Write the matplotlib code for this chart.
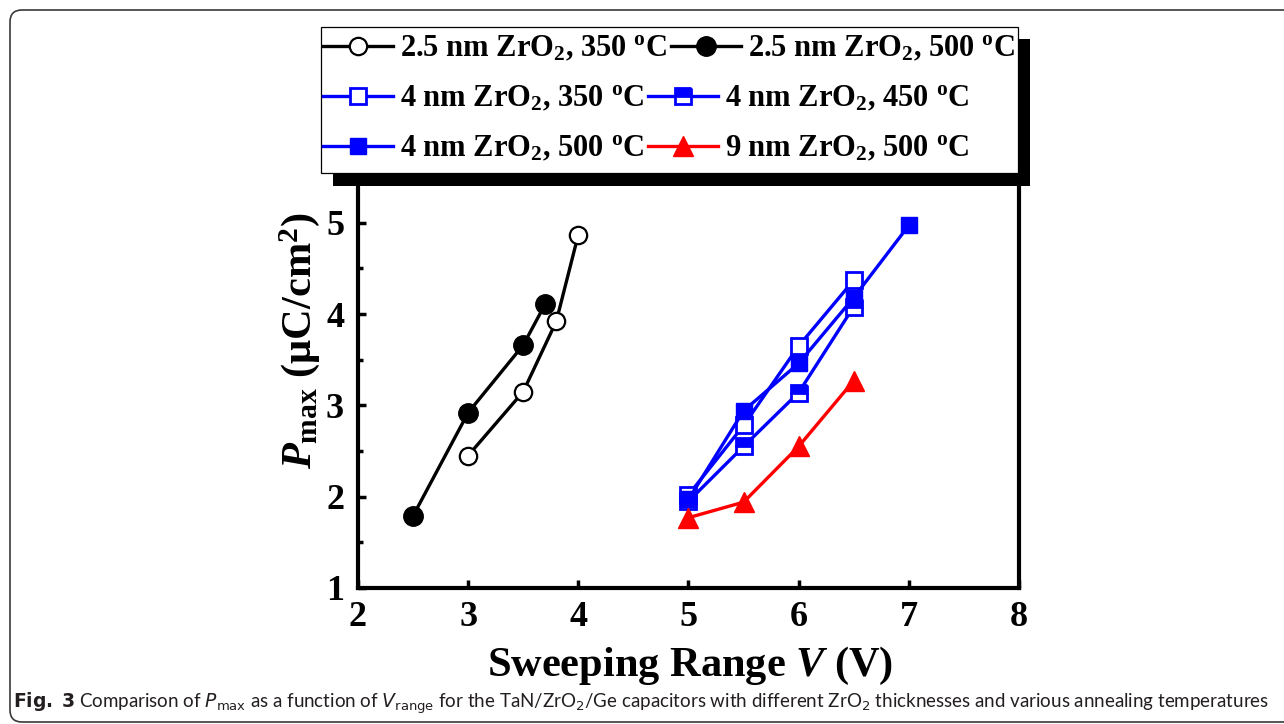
import matplotlib
matplotlib.use('Agg')
import matplotlib.pyplot as plt
from matplotlib.patches import Rectangle, FancyBboxPatch
from matplotlib.ticker import MultipleLocator

plt.rcParams['font.family'] = ['Liberation Serif', 'DejaVu Serif']
plt.rcParams['font.weight'] = 'normal'
plt.rcParams['mathtext.fontset'] = 'custom'
plt.rcParams['mathtext.rm'] = 'Liberation Serif:bold'
plt.rcParams['mathtext.bf'] = 'Liberation Serif:bold'
plt.rcParams['mathtext.it'] = 'Liberation Serif:italic:bold'

# ---------------- data ----------------
v_25_350 = [3.0, 3.5, 3.8, 4.0]
p_25_350 = [2.45, 3.15, 3.92, 4.87]
v_25_500 = [2.5, 3.0, 3.5, 3.7]
p_25_500 = [1.79, 2.92, 3.66, 4.11]
v_4_350 = [5.0, 5.5, 6.0, 6.5]
p_4_350 = [2.02, 2.78, 3.65, 4.37]
v_4_450 = [5.0, 5.5, 6.0, 6.5]
p_4_450 = [1.95, 2.55, 3.14, 4.08]
v_4_500 = [5.0, 5.5, 6.0, 6.5, 7.0]
p_4_500 = [1.97, 2.94, 3.46, 4.18, 4.97]
v_9_500 = [5.0, 5.5, 6.0, 6.5]
p_9_500 = [1.77, 1.94, 2.55, 3.27]

labels = [
    '2.5 nm ZrO$_2$, 350 $^\\mathrm{o}$C',
    '2.5 nm ZrO$_2$, 500 $^\\mathrm{o}$C',
    '4 nm ZrO$_2$, 350 $^\\mathrm{o}$C',
    '4 nm ZrO$_2$, 450 $^\\mathrm{o}$C',
    '4 nm ZrO$_2$, 500 $^\\mathrm{o}$C',
    '9 nm ZrO$_2$, 500 $^\\mathrm{o}$C',
]
x_ticks = [2, 3, 4, 5, 6, 7, 8]
y_ticks = [1, 2, 3, 4, 5]
xlabel = 'Sweeping Range $V$ (V)'
ylabel = '$P_\\mathrm{max}$ (μC/cm$^\\mathrm{2}$)'
caption = ('$\\mathbf{Fig.}$ $\\mathbf{3}$ Comparison of $P_\\mathrm{max}$ as a function of '
           '$V_\\mathrm{range}$ for the TaN/ZrO$_2$/Ge capacitors with different '
           'ZrO$_2$ thicknesses and various annealing temperatures')

W, H = 1284, 724
fig = plt.figure(figsize=(W / 100, H / 100), dpi=100)
ax = fig.add_axes([358 / W, 1 - 588 / H, (1019 - 358) / W, (588 - 177) / H])

lw = 2.4
l1, = ax.plot(v_25_350, p_25_350, '-o', color='black', lw=lw, ms=12.5,
              mfc='white', mec='black', mew=1.6)
l2, = ax.plot(v_25_500, p_25_500, '-o', color='black', lw=lw, ms=14,
              mfc='black', mec='black', mew=1)
l3, = ax.plot(v_4_350, p_4_350, '-s', color='blue', lw=lw, ms=11,
              mfc='white', mec='blue', mew=2)
l4, = ax.plot(v_4_450, p_4_450, '-s', color='blue', lw=lw, ms=11,
              mfc='blue', mfcalt='white', fillstyle='top', mec='blue', mew=2)
l5, = ax.plot(v_4_500, p_4_500, '-s', color='blue', lw=lw, ms=12,
              mfc='blue', mec='blue', mew=1)
l6, = ax.plot(v_9_500, p_9_500, '-^', color='red', lw=lw, ms=15,
              mfc='red', mec='red', mew=1)

ax.set_xlim(2, 8)
ax.set_ylim(1, 5.5)
ax.set_xticks(x_ticks)
ax.set_yticks(y_ticks)
ax.yaxis.set_minor_locator(MultipleLocator(0.5))
for s in ['left', 'bottom', 'right', 'top']:
    ax.spines[s].set_linewidth(3)
ax.tick_params(axis='both', which='major', direction='in', length=6, width=2.5,
               labelsize=26, top=False, right=False)
ax.tick_params(axis='y', which='major', pad=10)
ax.tick_params(axis='x', which='major', pad=9)
ax.tick_params(axis='y', which='minor', direction='in', length=3.5, width=2.5, right=False)
for t in ax.get_xticklabels() + ax.get_yticklabels():
    t.set_fontweight('bold')

fig.text(690 / W, 1 - 676 / H, xlabel, ha='center', va='baseline',
         fontsize=30.5, fontweight='bold')
fig.text(300 / W, 1 - 341 / H, ylabel, ha='center', va='center', rotation=90,
         fontsize=30.5, fontweight='bold')

# legend frame + shadow
fig.add_artist(Rectangle((333 / W, 1 - 186 / H), (1030 - 333) / W, (186 - 39) / H,
                         transform=fig.transFigure, fc='black', ec='none', zorder=3))
fig.add_artist(Rectangle((321 / W, 1 - 173 / H), (1018 - 321) / W, (173 - 27) / H,
                         transform=fig.transFigure, fc='white', ec='black', lw=0.9,
                         zorder=3.5))
rows = [((l1, l2), labels[0:2], 49), ((l3, l4), labels[2:4], 99), ((l5, l6), labels[4:6], 149)]
for hs, lbs, yy in rows:
    fig.legend(handles=list(hs), labels=list(lbs), loc='center left',
               bbox_to_anchor=(323 / W, 1 - yy / H), bbox_transform=fig.transFigure,
               ncol=2, frameon=False, numpoints=1, borderpad=0, borderaxespad=0,
               handlelength=2.3, handletextpad=0.22, columnspacing=0.12,
               prop={'family': 'Liberation Serif', 'weight': 'bold', 'size': 22})

# outer rounded border
fig.add_artist(FancyBboxPatch((0.10, 0.02), 13.0, 7.12,
                              boxstyle='round,pad=0,rounding_size=0.12',
                              transform=fig.dpi_scale_trans, fc='none',
                              ec='#3a3a3a', lw=1.2, zorder=0))

cap = fig.text(13 / W, 1 - 703 / H, caption, ha='left', va='center',
               fontsize=14, family='Lato', fontweight='normal',
               math_fontfamily='dejavusans', color='#231f20')
fig.canvas.draw()
bb = cap.get_window_extent()
cap.set_fontsize(14 * (1263 / bb.width))

fig.savefig('out.png', dpi=100)
